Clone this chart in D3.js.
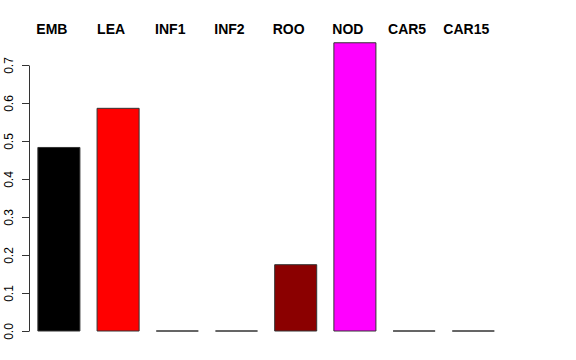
<!DOCTYPE html>
<html>
<head>
<meta charset="utf-8">
<script src="https://cdn.jsdelivr.net/npm/d3@7"></script>
<style>
  body { margin: 0; background: #fff; }
  text { font-family: "Liberation Sans", Arial, sans-serif; }
</style>
</head>
<body>
<svg width="576" height="360"></svg>
<script>
const categories = ["EMB", "LEA", "INF1", "INF2", "ROO", "NOD", "CAR5", "CAR15"];
const values = [0.483, 0.586, 0, 0, 0.1745, 0.7585, 0, 0];
const colors = ["#000000", "#ff0000", "#000000", "#000000", "#8b0000", "#ff00ff", "#000000", "#000000"];
const yTicks = [0, 0.1, 0.2, 0.3, 0.4, 0.5, 0.6, 0.7];

const svg = d3.select("svg");

// bar slots: 38 + 59.2*i, bar width 42
const x = d3.scaleBand()
  .domain(categories)
  .range([28.4, 503.8])
  .paddingInner(0.29)
  .paddingOuter(0.16);

const y = d3.scaleLinear().domain([0, 0.7]).range([331, 65]);

// y axis
const yAxis = svg.append("g")
  .attr("transform", "translate(29,0)")
  .call(d3.axisLeft(y).tickValues(yTicks).tickSize(7).tickFormat(d3.format(".1f")).tickSizeOuter(0));
yAxis.select(".domain").attr("stroke", "#333");
yAxis.selectAll(".tick line").attr("stroke", "#333");
yAxis.selectAll(".tick text")
  .attr("x", 0).attr("dy", 0)
  .attr("transform", "translate(-20,0) rotate(-90)")
  .attr("text-anchor", "middle")
  .attr("dominant-baseline", "central")
  .attr("font-size", 12)
  .attr("fill", "#000");

// bars drawn as closed paths so zero-height bars still show their border
svg.append("g").selectAll("path")
  .data(categories)
  .join("path")
  .attr("d", (d, i) => {
    const x0 = x(d), x1 = x(d) + x.bandwidth();
    const y0 = y(0), y1 = y(values[i]);
    return `M${x0},${y0}V${y1}H${x1}V${y0}Z`;
  })
  .attr("fill", (d, i) => colors[i])
  .attr("stroke", "#333")
  .attr("stroke-width", 1);

// top labels
svg.append("g").selectAll("text")
  .data(categories)
  .join("text")
  .attr("x", d => x(d) + x.bandwidth() / 2 - 7)
  .attr("y", 34)
  .attr("text-anchor", "middle")
  .attr("font-size", 14)
  .attr("font-weight", "bold")
  .text(d => d);
</script>
</body>
</html>
